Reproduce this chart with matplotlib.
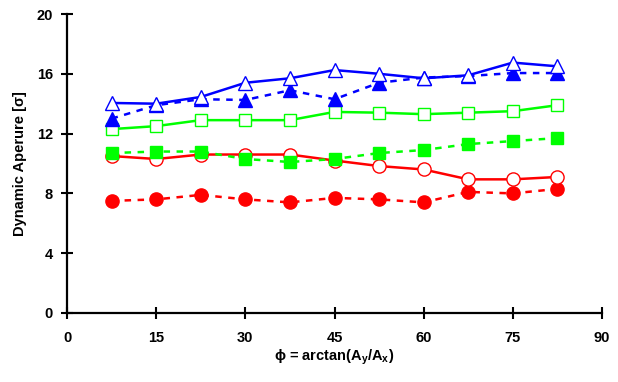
import matplotlib
matplotlib.use("Agg")
import matplotlib.pyplot as plt

plt.rcParams['font.family'] = ['Liberation Sans', 'DejaVu Sans']
plt.rcParams['mathtext.fontset'] = 'custom'
plt.rcParams['mathtext.rm'] = 'Liberation Sans:bold'
plt.rcParams['mathtext.it'] = 'Liberation Sans:bold'
plt.rcParams['mathtext.bf'] = 'Liberation Sans:bold'

phi = [7.5, 15, 22.5, 30, 37.5, 45, 52.5, 60, 67.5, 75, 82.5]
blue_open = [14.05, 14.0, 14.45, 15.4, 15.7, 16.25, 16.0, 15.7, 15.9, 16.75, 16.5]
blue_filled = [13.0, 13.9, 14.3, 14.25, 14.9, 14.3, 15.4, 15.75, 15.85, 16.05, 16.05]
green_open = [12.3, 12.5, 12.9, 12.9, 12.9, 13.45, 13.4, 13.3, 13.4, 13.5, 13.9]
green_filled = [10.7, 10.8, 10.8, 10.3, 10.1, 10.3, 10.7, 10.9, 11.3, 11.5, 11.7]
red_open = [10.5, 10.3, 10.6, 10.6, 10.6, 10.2, 9.83, 9.6, 8.94, 8.94, 9.1]
red_filled = [7.5, 7.6, 7.9, 7.6, 7.4, 7.7, 7.6, 7.4, 8.1, 8.0, 8.3]

xticks = [0, 15, 30, 45, 60, 75, 90]
yticks = [0, 4, 8, 12, 16, 20]

fig = plt.figure(figsize=(6.18, 3.82), dpi=100)
ax = fig.add_axes([67/618, (382-313)/382, (602-67)/618, (313-14)/382])

dash = (0, (2.6, 2.6))
lw = 1.8
ax.plot(phi, red_filled, color='#FF0000', linestyle=dash, lw=lw, marker='o', ms=9.5,
        mfc='#FF0000', mec='#FF0000')
ax.plot(phi, red_open, color='#FF0000', linestyle='-', lw=lw, marker='o', ms=9.5,
        mfc='white', mec='#FF0000', mew=1.0)
ax.plot(phi, green_filled, color='#00FF00', linestyle=dash, lw=lw, marker='s', ms=8,
        mfc='#00FF00', mec='#00FF00')
ax.plot(phi, green_open, color='#00FF00', linestyle='-', lw=lw, marker='s', ms=9,
        mfc='white', mec='#00FF00', mew=1.0)
ax.plot(phi, blue_filled, color='#0000FF', linestyle=dash, lw=lw, marker='^', ms=10,
        mfc='#0000FF', mec='#0000FF')
ax.plot(phi, blue_open, color='#0000FF', linestyle='-', lw=lw, marker='^', ms=10,
        mfc='white', mec='#0000FF', mew=1.0)

ax.set_xlim(0, 90)
ax.set_ylim(0, 20)
ax.set_xticks(xticks)
ax.set_yticks(yticks)
for s in ['top', 'right']:
    ax.spines[s].set_visible(False)
for s in ['left', 'bottom']:
    ax.spines[s].set_linewidth(1.6)
ax.tick_params(direction='inout', length=8, width=1.5, labelsize=10.5, pad=6)
for lab in ax.get_xticklabels() + ax.get_yticklabels():
    lab.set_fontweight('bold')
ax.tick_params(axis='x', pad=9)

ax.set_ylabel('Dynamic Aperure [σ]', fontsize=10.5, fontweight='bold', labelpad=7)
ax.set_xlabel('ϕ = arctan(A$_{y}$/A$_{x}$)', fontsize=10.5, fontweight='bold', labelpad=2,
              family=['Liberation Sans', 'DejaVu Sans'])

fig.savefig('out.png', dpi=100)
